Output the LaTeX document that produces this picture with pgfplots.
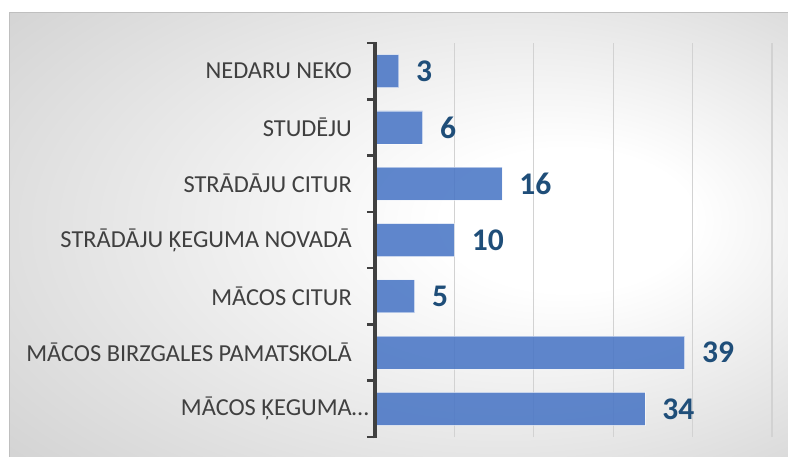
\documentclass[border=0pt]{standalone}
\usepackage{fontspec}
\setmainfont{Carlito}
\usepackage{pgfplots}
\pgfplotsset{compat=1.18}

\definecolor{barblue}{RGB}{68,114,196}
\definecolor{lblblue}{RGB}{31,78,121}
\definecolor{axgray}{RGB}{64,64,64}
\definecolor{gridgray}{RGB}{210,210,210}
\definecolor{bgedge}{RGB}{194,194,194}
\definecolor{frame}{RGB}{191,191,191}
\pgfdeclareradialshading{chartbg}{\pgfpoint{13bp}{2bp}}{color(0bp)=(white); color(8bp)=(white); color(50bp)=(bgedge)}

\begin{document}
\begin{tikzpicture}
\useasboundingbox (0,0) rectangle (788bp,457bp);
% chart area with radial background
\shade[shading=chartbg] (9bp,0) rectangle (788bp,444bp);
\draw[frame, line width=1bp] (9bp,0) -- (9bp,444bp) -- (788bp,444bp);
\begin{axis}[
  at={(375bp,20bp)}, anchor=south west,
  scale only axis, width=397bp, height=394bp,
  clip=false,
  xbar, bar width=33bp,
  xmin=0, xmax=50, ymin=0.5, ymax=7.5,
  axis lines*=left,
  axis line style={draw=none},
  xtick={10,20,30,40,50}, xticklabels={},
  major x tick style={draw=none},
  xmajorgrids, grid style={gridgray, line width=1.3bp},
  ytick={1,...,7},
  yticklabels={M\=ACOS \c{K}EGUMA\rlap{…}, MĀCOS BIRZGALES PAMATSKOLĀ, MĀCOS CITUR,
    STRĀDĀJU ĶEGUMA NOVADĀ, STRĀDĀJU CITUR, STUDĒJU, NEDARU NEKO},
  minor ytick={0.5,1.5,...,7.5},
  tick align=outside,
  major tick length=0pt, minor tick length=8bp,
  minor y tick style={line width=2.6bp, axgray},
  major y tick style={draw=none},
  yticklabel style={font=\fontsize{24.4bp}{26bp}\selectfont, text=axgray, inner sep=0pt, xshift=-23bp},
  nodes near coords,
  nodes near coords style={font=\bfseries\fontsize{31.5bp}{32bp}\selectfont, text=lblblue,
    inner sep=0pt, xshift=17bp, anchor=west, text opacity=1},
  /pgf/number format/assume math mode=true,
]
\addplot[fill=barblue, fill opacity=0.85, draw=white, draw opacity=0.5, line width=0.8bp]
  coordinates {(34,1) (39,2) (5,3) (10,4) (16,5) (6,6) (3,7)};
% thick category axis line
\draw[line width=3.2bp, axgray] ([yshift=-1.3bp]rel axis cs:0,0) -- ([yshift=1.3bp]rel axis cs:0,1);
\end{axis}
\end{tikzpicture}
\end{document}
